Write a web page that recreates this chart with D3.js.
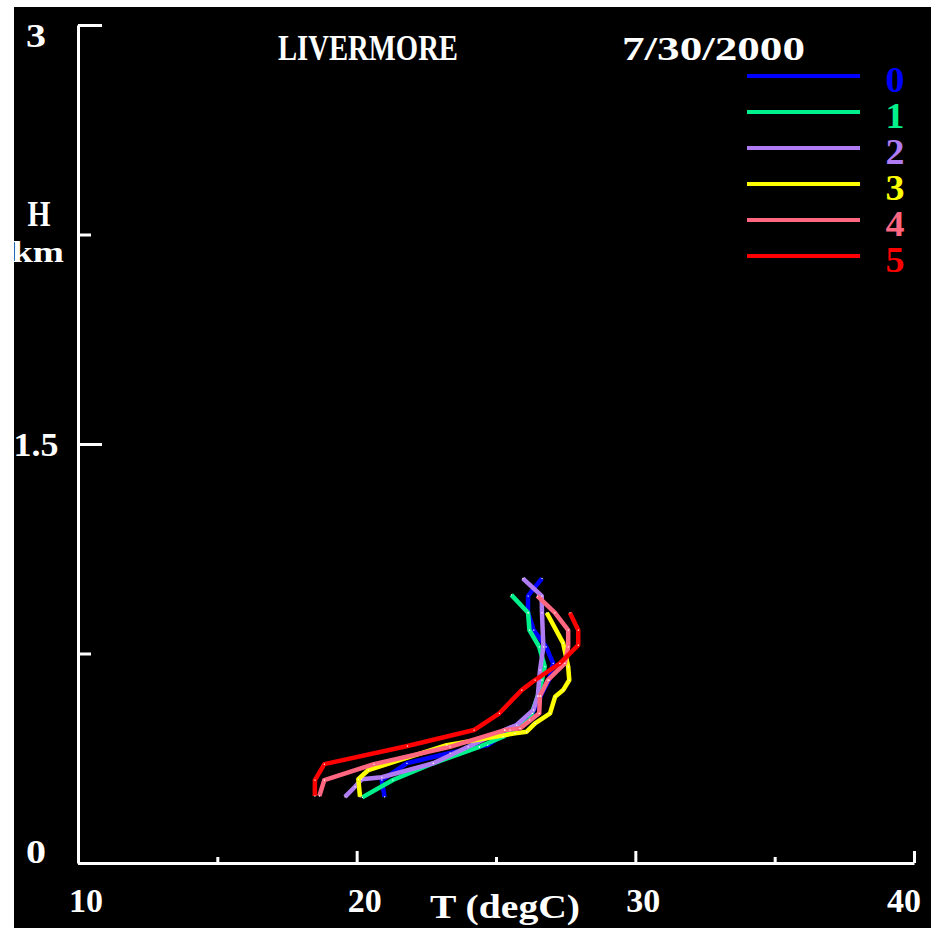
<!DOCTYPE html>
<html>
<head>
<meta charset="utf-8">
<script src="https://cdn.jsdelivr.net/npm/d3@7"></script>
<style>
  html, body { margin: 0; padding: 0; background: #ffffff; }
  svg { display: block; }
  text { font-family: "Liberation Serif", "DejaVu Serif", serif; font-weight: bold; }
</style>
</head>
<body>
<script>
// ---------- data ----------
const seriesNames = ["0", "1", "2", "3", "4", "5"];
const seriesColors = ["#0000ff", "#00f08c", "#b07cf4", "#ffff00", "#ff6680", "#ff0000"];

const H0 = [0.237, 0.297, 0.357, 0.394, 0.416, 0.422, 0.476, 0.536, 0.598, 0.655, 0.715, 0.774, 0.834, 0.896, 0.956, 1.019];
const T0 = [21.0, 20.9, 21.8, 23.35, 24.4, 24.7, 25.5, 26.3, 26.6, 26.9, 27.05, 26.8, 26.35, 26.15, 26.15, 26.65];

const H1 = [0.235, 0.297, 0.357, 0.416, 0.452, 0.512, 0.598, 0.655, 0.703, 0.774, 0.834, 0.896, 0.960];
const T1 = [20.2, 21.3, 22.75, 24.4, 25.25, 26.2, 26.5, 26.65, 26.75, 26.55, 26.2, 26.15, 25.55];

const H2 = [0.237, 0.273, 0.300, 0.307, 0.357, 0.416, 0.476, 0.494, 0.548, 0.598, 0.691, 0.774, 0.896, 0.956, 1.019];
const T2 = [19.58, 19.94, 20.18, 20.9, 22.75, 24.0, 25.3, 25.74, 26.34, 26.5, 26.58, 26.7, 26.65, 26.64, 25.96];

const H3 = [0.237, 0.300, 0.333, 0.422, 0.464, 0.470, 0.500, 0.536, 0.595, 0.619, 0.655, 0.703, 0.787, 0.896];
const T3 = [20.12, 20.06, 20.42, 23.23, 25.68, 26.10, 26.40, 26.94, 27.12, 27.41, 27.63, 27.59, 27.41, 26.82];

const H4 = [0.240, 0.297, 0.354, 0.416, 0.476, 0.482, 0.536, 0.598, 0.655, 0.715, 0.774, 0.834, 0.896, 0.956];
const T4 = [18.66, 18.84, 20.62, 23.35, 25.32, 25.86, 26.55, 26.58, 26.86, 27.47, 27.59, 27.59, 27.11, 26.48];

const H5 = [0.240, 0.297, 0.354, 0.419, 0.476, 0.536, 0.619, 0.655, 0.715, 0.780, 0.834, 0.896];
const T5 = [18.50, 18.50, 18.84, 21.82, 24.21, 25.12, 25.92, 26.40, 27.29, 27.95, 27.95, 27.65];

const xMajorTicks = [10, 20, 30, 40];
const xMinorTicks = [15, 25, 35];
const xTickLabels = ["10", "20", "30", "40"];
const yMajorTicks = [0, 1.5, 3];
const yMinorTicks = [0.75, 2.25];
const yTickLabels = ["0", "1.5", "3"];

const titleText = "LIVERMORE";
const dateText = "7/30/2000";
const xTitle = "T (degC)";
const yTitle1 = "H";
const yTitle2 = "km";

// ---------- drawing ----------
const W = 931, Hh = 928;
const svg = d3.select("body").append("svg").attr("width", W).attr("height", Hh);

svg.append("rect").attr("x", 0).attr("y", 0).attr("width", W).attr("height", Hh).attr("fill", "#ffffff");
svg.append("defs").append("clipPath").attr("id", "panel")
  .append("rect").attr("x", 14).attr("y", 7).attr("width", W - 14).attr("height", Hh - 7);
svg.append("rect").attr("x", 14).attr("y", 7).attr("width", W - 14).attr("height", Hh - 7).attr("fill", "#000000");

const g = svg.append("g").attr("clip-path", "url(#panel)");

const x = d3.scaleLinear().domain([10, 40]).range([78, 914]);
const y = d3.scaleLinear().domain([0, 3]).range([863, 25]);

// axes lines & ticks
const axisStyle = sel => {
  sel.selectAll("path.domain").attr("stroke", "#fff").attr("stroke-width", 3);
  sel.selectAll(".tick line").attr("stroke", "#fff").attr("stroke-width", 3);
  sel.selectAll(".tick text").remove();
};
g.append("g").attr("transform", `translate(0,${y(0)})`)
  .call(d3.axisTop(x).tickValues(xMajorTicks).tickSize(12).tickSizeOuter(0).tickFormat(""))
  .call(axisStyle);
g.append("g").attr("transform", `translate(0,${y(0)})`)
  .call(d3.axisTop(x).tickValues(xMinorTicks).tickSize(6).tickSizeOuter(0).tickFormat(""))
  .call(axisStyle).call(s => s.select("path.domain").remove());
g.append("g").attr("transform", `translate(${x(10)},0)`)
  .call(d3.axisRight(y).tickValues(yMajorTicks).tickSize(24).tickSizeOuter(0).tickFormat(""))
  .call(axisStyle);
g.append("g").attr("transform", `translate(${x(10)},0)`)
  .call(d3.axisRight(y).tickValues(yMinorTicks).tickSize(13).tickSizeOuter(0).tickFormat(""))
  .call(axisStyle).call(s => s.select("path.domain").remove());

// tick labels
g.selectAll("text.xl").data(xMajorTicks).join("text").attr("class", "xl")
  .attr("x", d => Math.min(x(d) + 8, 904))
  .attr("y", 912)
  .attr("text-anchor", "middle")
  .attr("font-size", 34)
  .attr("fill", "#fff")
  .attr("textLength", 34).attr("lengthAdjust", "spacingAndGlyphs")
  .text((d, i) => xTickLabels[i]);

g.selectAll("text.yl").data(yMajorTicks).join("text").attr("class", "yl")
  .attr("x", 36)
  .attr("y", d => Math.max(47, Math.min(863, y(d) + 11.5)))
  .attr("text-anchor", "middle")
  .attr("font-size", 34)
  .attr("fill", "#fff")
  .attr("textLength", (d, i) => yTickLabels[i].length === 1 ? 20 : 45)
  .attr("lengthAdjust", "spacingAndGlyphs")
  .text((d, i) => yTickLabels[i]);

// titles
g.append("text").attr("x", 278).attr("y", 60).attr("font-size", 35).attr("fill", "#fff")
  .attr("textLength", 180).attr("lengthAdjust", "spacingAndGlyphs").text(titleText);
g.append("text").attr("x", 622).attr("y", 60).attr("font-size", 34).attr("fill", "#fff")
  .attr("textLength", 183).attr("lengthAdjust", "spacingAndGlyphs").text(dateText);
g.append("text").attr("x", 430).attr("y", 918).attr("font-size", 34).attr("fill", "#fff")
  .attr("textLength", 150).attr("lengthAdjust", "spacingAndGlyphs").text(xTitle);
g.append("text").attr("x", 39).attr("y", 226).attr("text-anchor", "middle").attr("font-size", 36).attr("fill", "#fff")
  .attr("textLength", 23).attr("lengthAdjust", "spacingAndGlyphs").text(yTitle1);
g.append("text").attr("x", 64).attr("y", 262).attr("text-anchor", "end").attr("font-size", 30).attr("fill", "#fff")
  .attr("textLength", 52).attr("lengthAdjust", "spacingAndGlyphs").text(yTitle2);

// profiles
const series = [[T0, H0], [T1, H1], [T2, H2], [T3, H3], [T4, H4], [T5, H5]].map(([T, H], i) => ({
  name: seriesNames[i], color: seriesColors[i], pts: T.map((t, j) => [t, H[j]])
}));
const line = d3.line().x(d => x(d[0])).y(d => y(d[1]));
const sg = g.append("g");
series.forEach(s => {
  sg.append("path").attr("d", line(s.pts)).attr("fill", "none")
    .attr("stroke", s.color).attr("stroke-width", 4.5).attr("stroke-linejoin", "round").attr("stroke-linecap", "butt");
});
series.forEach(s => {
  sg.selectAll(null).data(s.pts).join("rect")
    .attr("x", d => x(d[0]) - 0.5).attr("y", d => y(d[1]) - 0.5)
    .attr("width", 1.2).attr("height", 1.2).attr("fill", "#fff");
});

// legend
const legY = d3.scaleLinear().domain([0, 5]).range([76, 256]);
const leg = g.append("g");
series.forEach((s, i) => {
  leg.append("line").attr("x1", 747).attr("x2", 860).attr("y1", legY(i)).attr("y2", legY(i))
    .attr("stroke", s.color).attr("stroke-width", 4);
  leg.append("text").attr("x", 895).attr("y", legY(i) + 16).attr("text-anchor", "middle")
    .attr("font-size", 35).attr("fill", s.color)
    .attr("textLength", 19).attr("lengthAdjust", "spacingAndGlyphs").text(s.name);
});
</script>
</body>
</html>
